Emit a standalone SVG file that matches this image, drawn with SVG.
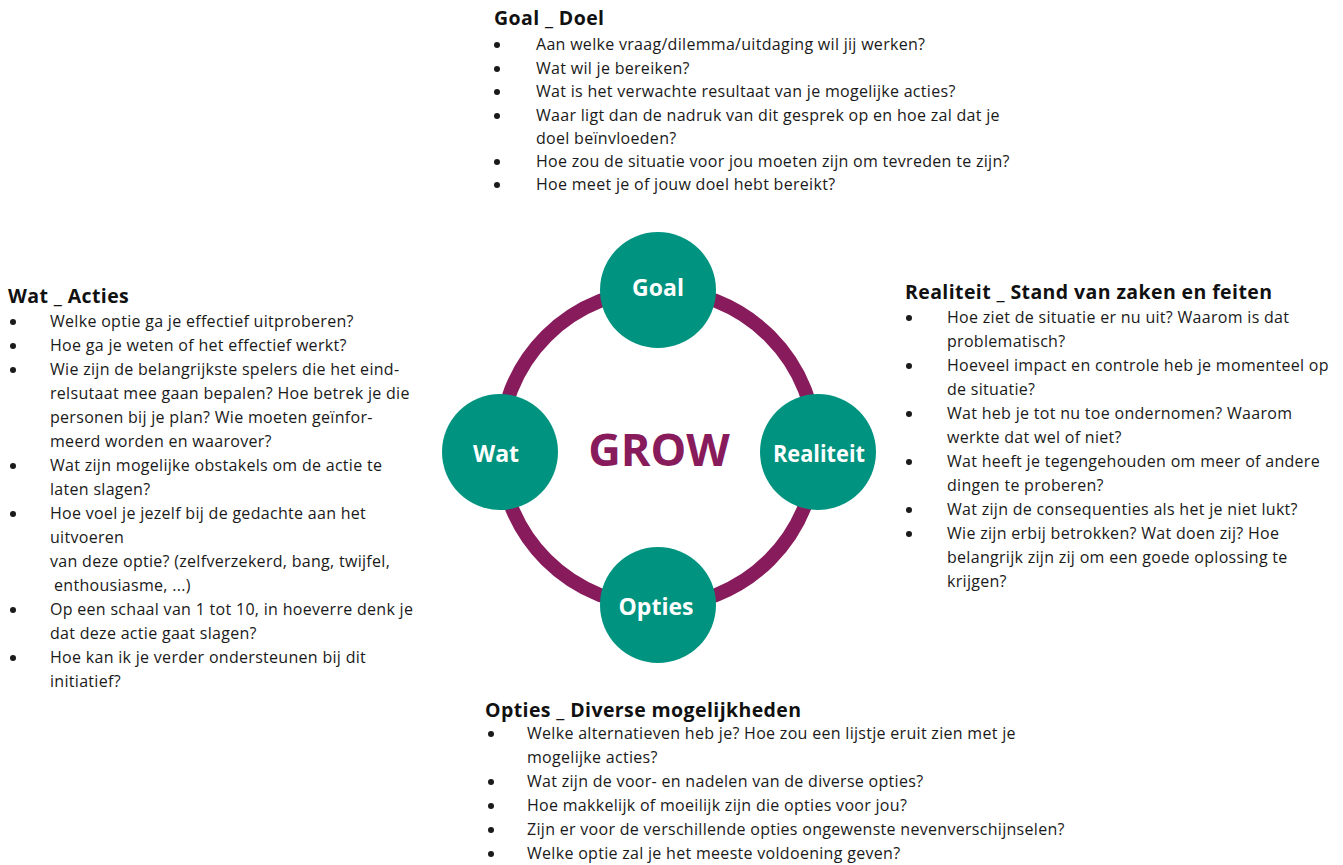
<svg xmlns="http://www.w3.org/2000/svg" width="1343" height="865" viewBox="0 0 1343 865">
<style>
.h{font-family:"Open Sans","Liberation Sans",sans-serif;font-weight:700;font-size:19.5px;letter-spacing:0.4px;fill:#111}
.t{font-family:"Open Sans","Liberation Sans",sans-serif;font-size:16px;letter-spacing:0.3px;fill:#1a1a1a}
.b{fill:#1a1a1a}
.node{fill:#009480}
.lbl{font-family:"Open Sans","Liberation Sans",sans-serif;font-weight:700;font-size:23px;fill:#fff;text-anchor:middle}
.ring{fill:none;stroke:#881B5B;stroke-width:14}
</style>
<rect width="1343" height="865" fill="#fff"/>
<g id="connectors">
<path class="ring" d="M 658 290 A 158 158 0 0 1 816 448"/>
<path class="ring" d="M 816 448 A 158 158 0 0 1 658 606"/>
<path class="ring" d="M 658 606 A 158 158 0 0 1 500 448"/>
<path class="ring" d="M 500 448 A 158 158 0 0 1 658 290"/>
</g>
<g id="grow"><text x="659" y="466" text-anchor="middle" style="font-family:'Open Sans','Liberation Sans',sans-serif;font-weight:700;font-size:45px;fill:#881B5B;letter-spacing:0px">GROW</text></g>
<g id="node-goal"><circle class="node" cx="658" cy="290" r="58"/><text class="lbl" x="658" y="296">Goal</text></g>
<g id="node-realiteit"><circle class="node" cx="818" cy="452" r="58"/><text class="lbl" x="819" y="462" textLength="92" lengthAdjust="spacingAndGlyphs">Realiteit</text></g>
<g id="node-opties"><circle class="node" cx="658" cy="605" r="58"/><text class="lbl" x="656" y="615">Opties</text></g>
<g id="node-wat"><circle class="node" cx="500" cy="452" r="58"/><text class="lbl" x="496" y="462">Wat</text></g>

<g id="text-goal">
<text class="h" x="494" y="25">Goal _ Doel</text>
<g class="b"><circle cx="497" cy="45" r="3"/><circle cx="497" cy="69" r="3"/><circle cx="497" cy="92" r="3"/><circle cx="497" cy="116" r="3"/><circle cx="497" cy="162" r="3"/><circle cx="497" cy="185" r="3"/></g>
<text class="t" x="536" y="50">Aan welke vraag/dilemma/uitdaging wil jij werken?</text>
<text class="t" x="536" y="74">Wat wil je bereiken?</text>
<text class="t" x="536" y="97">Wat is het verwachte resultaat van je mogelijke acties?</text>
<text class="t" x="536" y="121">Waar ligt dan de nadruk van dit gesprek op en hoe zal dat je</text>
<text class="t" x="536" y="144">doel beïnvloeden?</text>
<text class="t" x="536" y="167">Hoe zou de situatie voor jou moeten zijn om tevreden te zijn?</text>
<text class="t" x="536" y="190">Hoe meet je of jouw doel hebt bereikt?</text>
</g>

<g id="text-wat">
<text class="h" x="8" y="303">Wat _ Acties</text>
<g class="b"><circle cx="13" cy="322" r="3"/><circle cx="13" cy="346" r="3"/><circle cx="13" cy="370" r="3"/><circle cx="13" cy="466" r="3"/><circle cx="13" cy="514" r="3"/><circle cx="13" cy="610" r="3"/><circle cx="13" cy="658" r="3"/></g>
<text class="t" x="50" y="327">Welke optie ga je effectief uitproberen?</text>
<text class="t" x="50" y="351">Hoe ga je weten of het effectief werkt?</text>
<text class="t" x="50" y="375">Wie zijn de belangrijkste spelers die het eind-</text>
<text class="t" x="50" y="399">relsutaat mee gaan bepalen? Hoe betrek je die</text>
<text class="t" x="50" y="423">personen bij je plan? Wie moeten geïnfor-</text>
<text class="t" x="50" y="447">meerd worden en waarover?</text>
<text class="t" x="50" y="471">Wat zijn mogelijke obstakels om de actie te</text>
<text class="t" x="50" y="495">laten slagen?</text>
<text class="t" x="50" y="519">Hoe voel je jezelf bij de gedachte aan het</text>
<text class="t" x="50" y="543">uitvoeren</text>
<text class="t" x="50" y="567">van deze optie? (zelfverzekerd, bang, twijfel,</text>
<text class="t" x="54" y="591">enthousiasme, ...)</text>
<text class="t" x="50" y="615">Op een schaal van 1 tot 10, in hoeverre denk je</text>
<text class="t" x="50" y="639">dat deze actie gaat slagen?</text>
<text class="t" x="50" y="663">Hoe kan ik je verder ondersteunen bij dit</text>
<text class="t" x="50" y="687">initiatief?</text>
</g>

<g id="text-realiteit">
<text class="h" x="905" y="299">Realiteit _ Stand van zaken en feiten</text>
<g class="b"><circle cx="909" cy="318" r="3"/><circle cx="909" cy="366" r="3"/><circle cx="909" cy="414" r="3"/><circle cx="909" cy="462" r="3"/><circle cx="909" cy="510" r="3"/><circle cx="909" cy="534" r="3"/></g>
<text class="t" x="947" y="323">Hoe ziet de situatie er nu uit? Waarom is dat</text>
<text class="t" x="947" y="347">problematisch?</text>
<text class="t" x="947" y="371">Hoeveel impact en controle heb je momenteel op</text>
<text class="t" x="947" y="395">de situatie?</text>
<text class="t" x="947" y="419">Wat heb je tot nu toe ondernomen? Waarom</text>
<text class="t" x="947" y="443">werkte dat wel of niet?</text>
<text class="t" x="947" y="467">Wat heeft je tegengehouden om meer of andere</text>
<text class="t" x="947" y="491">dingen te proberen?</text>
<text class="t" x="947" y="515">Wat zijn de consequenties als het je niet lukt?</text>
<text class="t" x="947" y="539">Wie zijn erbij betrokken? Wat doen zij? Hoe</text>
<text class="t" x="947" y="563">belangrijk zijn zij om een goede oplossing te</text>
<text class="t" x="947" y="587">krijgen?</text>
</g>

<g id="text-opties">
<text class="h" x="485" y="717">Opties _ Diverse mogelijkheden</text>
<g class="b"><circle cx="491" cy="734" r="3"/><circle cx="491" cy="782" r="3"/><circle cx="491" cy="806" r="3"/><circle cx="491" cy="830" r="3"/><circle cx="491" cy="854" r="3"/></g>
<text class="t" x="527" y="739">Welke alternatieven heb je? Hoe zou een lijstje eruit zien met je</text>
<text class="t" x="527" y="763">mogelijke acties?</text>
<text class="t" x="527" y="787">Wat zijn de voor- en nadelen van de diverse opties?</text>
<text class="t" x="527" y="811">Hoe makkelijk of moeilijk zijn die opties voor jou?</text>
<text class="t" x="527" y="835">Zijn er voor de verschillende opties ongewenste nevenverschijnselen?</text>
<text class="t" x="527" y="859">Welke optie zal je het meeste voldoening geven?</text>
</g>
</svg>
